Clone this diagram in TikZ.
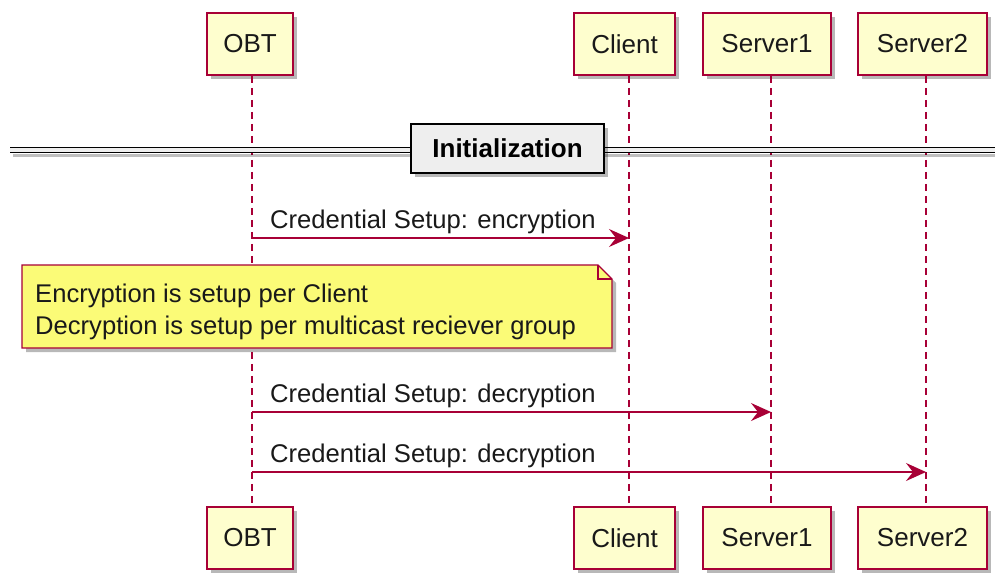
\documentclass[tikz,border=0pt]{standalone}
\usepackage{fontspec}
\setmainfont{Liberation Sans}
\usetikzlibrary{shadows,arrows.meta,calc}
\definecolor{pborder}{HTML}{A80036}
\definecolor{pfill}{HTML}{FEFECE}
\definecolor{notefill}{HTML}{FBFB77}
\definecolor{divfill}{HTML}{EEEEEE}
\begin{document}
\begin{tikzpicture}[x=1pt,y=-1pt,
  shad/.style={drop shadow={shadow xshift=4pt,shadow yshift=-4pt,fill=black,opacity=0.28}},
  part/.style={draw=pborder,line width=1.5pt,fill=pfill,minimum height=62pt,inner sep=0pt,
    font=\fontsize{26}{31}\selectfont,text=black!90,shad},
  life/.style={draw=pborder,line width=1.3pt,dash pattern=on 7pt off 5pt},
  msg/.style={draw=pborder,line width=1.5pt,-{Stealth[length=20pt,width=18pt,inset=7pt]}},
  lbl/.style={font=\fontsize{25.6}{31}\selectfont,text=black!90,anchor=base west,inner sep=0pt}]
\useasboundingbox (0,0) rectangle (995,573);
% participants
\node[part,minimum width=86pt]  (obt)  at (250,44) {OBT};
\node[part,minimum width=101pt] (cli)  at (624.5,44) {Client};
\node[part,minimum width=128pt] (sa)   at (767,44) {Server1};
\node[part,minimum width=129pt] (sb)   at (922.5,44) {Server2};
\node[part,minimum width=86pt]  (obtb) at (250,538) {OBT};
\node[part,minimum width=101pt] (clib) at (624.5,538) {Client};
\node[part,minimum width=128pt] (sab)  at (767,538) {Server1};
\node[part,minimum width=129pt] (sbb)  at (922.5,538) {Server2};
% lifeline x positions
\coordinate (obtL) at (252,0);
\coordinate (cliL) at (629,0);
\coordinate (saL)  at (771,0);
\coordinate (sbL)  at (926,0);
\draw[life] (obtL |- obt.south) -- (obtL |- obtb.north);
\draw[life] (cliL |- cli.south) -- (cliL |- clib.north);
\draw[life] (saL |- sa.south) -- (saL |- sab.north);
\draw[life] (sbL |- sb.south) -- (sbL |- sbb.north);
% divider
\coordinate (dl) at (10,150);
\coordinate (dr) at (995,150);
\fill[black,opacity=0.25] ($(dl)+(3,4)$) rectangle ($(dr)+(0,7)$);
\fill[divfill] ($(dl)+(0,-2.5)$) rectangle ($(dr)+(0,2.5)$);
\draw[line width=1.6pt] ($(dl)+(0,-2.5)$) -- ($(dr)+(0,-2.5)$);
\draw[line width=1.6pt] ($(dl)+(0,2.5)$) -- ($(dr)+(0,2.5)$);
\node[draw=black,line width=2pt,fill=divfill,minimum width=193pt,minimum height=49pt,
  font=\bfseries\fontsize{26}{31}\selectfont,shad] (div) at (507.5,148.5) {Initialization};
% message 1
\coordinate (m1s) at ($(obtL)+(0,238)$);
\coordinate (m1e) at ($(cliL)+(0,238)$);
\draw[msg] (m1s) -- (m1e);
\node[lbl] (m1l) at ($(m1s)+(18,-10)$) {Credential Setup: encryption};
% note
\path[fill=notefill,draw=pborder,line width=1.2pt,shad]
  (22,265) -- (598,265) -- (612,279) -- (612,348) -- (22,348) -- cycle;
\draw[pborder,line width=1.2pt] (598,265) -- (598,279) -- (612,279);
\node[lbl] (n1) at (35,302) {Encryption is setup per Client};
\node[lbl] (n2) at (35,334) {Decryption is setup per multicast reciever group};
% message 2
\coordinate (m2s) at ($(obtL)+(0,412)$);
\coordinate (m2e) at ($(saL)+(0,412)$);
\draw[msg] (m2s) -- (m2e);
\node[lbl] (m2l) at ($(m2s)+(18,-10)$) {Credential Setup: decryption};
% message 3
\coordinate (m3s) at ($(obtL)+(0,472)$);
\coordinate (m3e) at ($(sbL)+(0,472)$);
\draw[msg] (m3s) -- (m3e);
\node[lbl] (m3l) at ($(m3s)+(18,-10)$) {Credential Setup: decryption};
\end{tikzpicture}
\end{document}
